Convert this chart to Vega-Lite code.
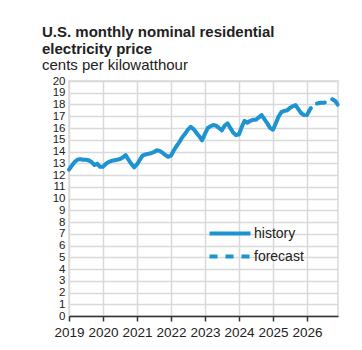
{
  "$schema": "https://vega.github.io/schema/vega-lite/v6.json",
  "autosize": {"type": "none"},
  "width": 269,
  "height": 235,
  "padding": {"left": 69, "top": 81, "right": 24, "bottom": 34},
  "background": "white",
  "config": {
    "font": "Liberation Sans",
    "view": {"stroke": "#d9d9d9", "strokeWidth": 1.5}
  },
  "title": {
    "text": ["U.S. monthly nominal residential", "electricity price"],
    "subtitle": "cents per kilowatthour",
    "anchor": "start",
    "frame": "group",
    "dx": -27,
    "offset": 2,
    "fontSize": 15,
    "fontWeight": "bold",
    "lineHeight": 17,
    "color": "#222222",
    "subtitleFontSize": 15,
    "subtitleColor": "#222222",
    "subtitlePadding": 1
  },
  "data": {
    "values": [
      {"date": "2019-01-01", "value": 12.45, "series": "history"},
      {"date": "2019-02-01", "value": 12.8, "series": "history"},
      {"date": "2019-03-01", "value": 13.1, "series": "history"},
      {"date": "2019-04-01", "value": 13.3, "series": "history"},
      {"date": "2019-05-01", "value": 13.35, "series": "history"},
      {"date": "2019-06-01", "value": 13.3, "series": "history"},
      {"date": "2019-07-01", "value": 13.3, "series": "history"},
      {"date": "2019-08-01", "value": 13.25, "series": "history"},
      {"date": "2019-09-01", "value": 13.1, "series": "history"},
      {"date": "2019-10-01", "value": 12.85, "series": "history"},
      {"date": "2019-11-01", "value": 12.95, "series": "history"},
      {"date": "2019-12-01", "value": 12.7, "series": "history"},
      {"date": "2020-01-01", "value": 12.7, "series": "history"},
      {"date": "2020-02-01", "value": 12.95, "series": "history"},
      {"date": "2020-03-01", "value": 13.1, "series": "history"},
      {"date": "2020-04-01", "value": 13.2, "series": "history"},
      {"date": "2020-05-01", "value": 13.25, "series": "history"},
      {"date": "2020-06-01", "value": 13.3, "series": "history"},
      {"date": "2020-07-01", "value": 13.35, "series": "history"},
      {"date": "2020-08-01", "value": 13.5, "series": "history"},
      {"date": "2020-09-01", "value": 13.7, "series": "history"},
      {"date": "2020-10-01", "value": 13.3, "series": "history"},
      {"date": "2020-11-01", "value": 12.95, "series": "history"},
      {"date": "2020-12-01", "value": 12.65, "series": "history"},
      {"date": "2021-01-01", "value": 12.9, "series": "history"},
      {"date": "2021-02-01", "value": 13.3, "series": "history"},
      {"date": "2021-03-01", "value": 13.65, "series": "history"},
      {"date": "2021-04-01", "value": 13.75, "series": "history"},
      {"date": "2021-05-01", "value": 13.8, "series": "history"},
      {"date": "2021-06-01", "value": 13.85, "series": "history"},
      {"date": "2021-07-01", "value": 13.95, "series": "history"},
      {"date": "2021-08-01", "value": 14.1, "series": "history"},
      {"date": "2021-09-01", "value": 14.05, "series": "history"},
      {"date": "2021-10-01", "value": 13.9, "series": "history"},
      {"date": "2021-11-01", "value": 13.7, "series": "history"},
      {"date": "2021-12-01", "value": 13.55, "series": "history"},
      {"date": "2022-01-01", "value": 13.65, "series": "history"},
      {"date": "2022-02-01", "value": 14.1, "series": "history"},
      {"date": "2022-03-01", "value": 14.45, "series": "history"},
      {"date": "2022-04-01", "value": 14.8, "series": "history"},
      {"date": "2022-05-01", "value": 15.2, "series": "history"},
      {"date": "2022-06-01", "value": 15.5, "series": "history"},
      {"date": "2022-07-01", "value": 15.85, "series": "history"},
      {"date": "2022-08-01", "value": 16.1, "series": "history"},
      {"date": "2022-09-01", "value": 15.9, "series": "history"},
      {"date": "2022-10-01", "value": 15.6, "series": "history"},
      {"date": "2022-11-01", "value": 15.3, "series": "history"},
      {"date": "2022-12-01", "value": 14.95, "series": "history"},
      {"date": "2023-01-01", "value": 15.5, "series": "history"},
      {"date": "2023-02-01", "value": 16.0, "series": "history"},
      {"date": "2023-03-01", "value": 16.15, "series": "history"},
      {"date": "2023-04-01", "value": 16.25, "series": "history"},
      {"date": "2023-05-01", "value": 16.2, "series": "history"},
      {"date": "2023-06-01", "value": 16.0, "series": "history"},
      {"date": "2023-07-01", "value": 15.8, "series": "history"},
      {"date": "2023-08-01", "value": 16.2, "series": "history"},
      {"date": "2023-09-01", "value": 16.4, "series": "history"},
      {"date": "2023-10-01", "value": 16.0, "series": "history"},
      {"date": "2023-11-01", "value": 15.6, "series": "history"},
      {"date": "2023-12-01", "value": 15.4, "series": "history"},
      {"date": "2024-01-01", "value": 15.45, "series": "history"},
      {"date": "2024-02-01", "value": 16.1, "series": "history"},
      {"date": "2024-03-01", "value": 16.6, "series": "history"},
      {"date": "2024-04-01", "value": 16.45, "series": "history"},
      {"date": "2024-05-01", "value": 16.6, "series": "history"},
      {"date": "2024-06-01", "value": 16.7, "series": "history"},
      {"date": "2024-07-01", "value": 16.7, "series": "history"},
      {"date": "2024-08-01", "value": 16.9, "series": "history"},
      {"date": "2024-09-01", "value": 17.1, "series": "history"},
      {"date": "2024-10-01", "value": 16.75, "series": "history"},
      {"date": "2024-11-01", "value": 16.4, "series": "history"},
      {"date": "2024-12-01", "value": 16.0, "series": "history"},
      {"date": "2025-01-01", "value": 15.85, "series": "history"},
      {"date": "2025-02-01", "value": 16.4, "series": "history"},
      {"date": "2025-03-01", "value": 16.95, "series": "history"},
      {"date": "2025-04-01", "value": 17.35, "series": "history"},
      {"date": "2025-05-01", "value": 17.45, "series": "history"},
      {"date": "2025-06-01", "value": 17.5, "series": "history"},
      {"date": "2025-07-01", "value": 17.7, "series": "history"},
      {"date": "2025-08-01", "value": 17.85, "series": "history"},
      {"date": "2025-09-01", "value": 17.95, "series": "history"},
      {"date": "2025-10-01", "value": 17.6, "series": "history"},
      {"date": "2025-11-01", "value": 17.25, "series": "history"},
      {"date": "2025-12-01", "value": 17.1, "series": "history"},
      {"date": "2026-01-01", "value": 17.1, "series": "forecast"},
      {"date": "2026-02-01", "value": 17.55, "series": "forecast"},
      {"date": "2026-03-01", "value": 17.9, "series": "forecast"},
      {"date": "2026-04-01", "value": 18.05, "series": "forecast"},
      {"date": "2026-05-01", "value": 18.1, "series": "forecast"},
      {"date": "2026-06-01", "value": 18.15, "series": "forecast"},
      {"date": "2026-07-01", "value": 18.15, "series": "forecast"},
      {"date": "2026-08-01", "value": 18.2, "series": "forecast"},
      {"date": "2026-09-01", "value": 18.35, "series": "forecast"},
      {"date": "2026-10-01", "value": 18.45, "series": "forecast"},
      {"date": "2026-11-01", "value": 18.3, "series": "forecast"},
      {"date": "2026-12-01", "value": 17.95, "series": "forecast"}
    ]
  },
  "mark": {"type": "line", "strokeWidth": 4, "color": "#1d93d2", "strokeCap": "round", "strokeJoin": "round"},
  "encoding": {
    "x": {
      "field": "date",
      "type": "temporal",
      "scale": {"type": "utc", "domain": [{"year": 2019, "month": 1, "date": 1, "utc": true}, {"year": 2026, "month": 12, "date": 1, "utc": true}]},
      "axis": {
        "title": null,
        "format": "%Y",
        "formatType": "utc",
        "tickCount": {"interval": "year", "step": 1},
        "labelFontSize": 13.5,
        "labelColor": "#222222",
        "labelPadding": 4,
        "labelFlush": false,
        "labelOverlap": false,
        "domainColor": "#333333",
        "domainWidth": 1.5,
        "tickColor": "#333333",
        "tickSize": 5,
        "tickWidth": 1.5,
        "gridColor": "#d9d9d9",
        "gridWidth": 1.5
      }
    },
    "y": {
      "field": "value",
      "type": "quantitative",
      "scale": {"domain": [0, 20], "nice": false},
      "axis": {
        "title": null,
        "values": [0,1,2,3,4,5,6,7,8,9,10,11,12,13,14,15,16,17,18,19,20],
        "labelFontSize": 11.5,
        "labelColor": "#222222",
        "labelPadding": 4,
        "labelOverlap": false,
        "labelBaseline": "middle",
        "ticks": false,
        "domain": false,
        "gridColor": "#d9d9d9",
        "gridWidth": 1.5
      }
    },
    "strokeDash": {
      "field": "series",
      "type": "nominal",
      "scale": {"domain": ["history", "forecast"], "range": [[1, 0], [8, 8]]},
      "legend": {
        "title": null,
        "orient": "none",
        "legendX": 148.5,
        "legendY": 140,
        "symbolType": "M-2,0H2",
        "symbolSize": 420,
        "symbolStrokeWidth": 4,
        "symbolStrokeColor": "#1d93d2",
        "symbolFillColor": "transparent",
        "labelFontSize": 14,
        "labelColor": "#222222",
        "labelOffset": 11.5,
        "rowPadding": 2
      }
    }
  }
}
